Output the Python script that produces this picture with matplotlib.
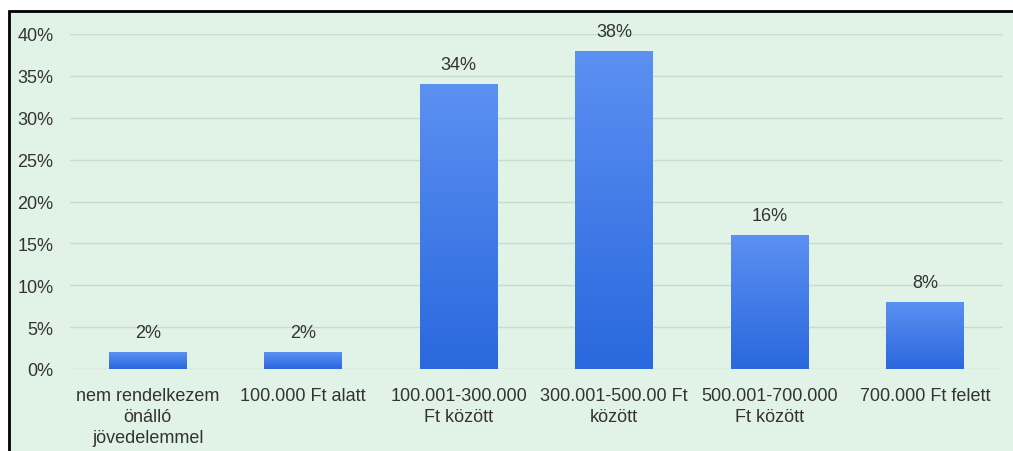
import numpy as np
import matplotlib
matplotlib.use("Agg")
import matplotlib.pyplot as plt
from matplotlib.patches import Rectangle
from matplotlib.colors import LinearSegmentedColormap

plt.rcParams['font.family'] = ['Liberation Sans', 'DejaVu Sans']

categories = [
    "nem rendelkezem\nönálló\njövedelemmel",
    "100.000 Ft alatt",
    "100.001-300.000\nFt között",
    "300.001-500.00 Ft\nközött",
    "500.001-700.000\nFt között",
    "700.000 Ft felett",
]
shares = [2, 2, 34, 38, 16, 8]
yticks = [0, 5, 10, 15, 20, 25, 30, 35, 40]

bg = "#e1f2e7"
text_col = "#333333"

fig = plt.figure(figsize=(10.13, 4.52), dpi=100)
fig.patch.set_facecolor("white")

# framed green panel behind the axes
W, H = 1013, 452
panel = Rectangle((9 / W, -0.05), 1.1, 1 - 12 / H + 0.05, transform=fig.transFigure,
                  facecolor=bg, edgecolor="black", linewidth=2, zorder=-5)
fig.add_artist(panel)

ax = fig.add_axes([70 / W, 1 - 370 / H, 933 / W, 335 / H])
ax.set_facecolor("none")

x = np.arange(len(categories))
bars = ax.bar(x, shares, width=0.5, color="none", edgecolor="none", zorder=3)

# vertical gradient fill for each bar
cmap = LinearSegmentedColormap.from_list("blues", ["#2a68de", "#5c90f2"])
grad = np.linspace(0, 1, 256).reshape(-1, 1)
for b in bars:
    x0, y0 = b.get_x(), b.get_y()
    w, h = b.get_width(), b.get_height()
    im = ax.imshow(grad, cmap=cmap, origin="lower", aspect="auto",
                   extent=(x0, x0 + w, y0, y0 + h), zorder=3)
    im.set_clip_path(b)

ax.bar_label(bars, labels=[f"{v}%" for v in shares], padding=8,
             fontsize=13, color=text_col)

ax.set_xlim(-0.5, len(categories) - 0.5)
ax.set_ylim(0, 40)
ax.set_yticks(yticks)
ax.set_yticklabels([f"{v}%" for v in yticks])
ax.set_xticks(x)
ax.set_xticklabels(categories, linespacing=1.3)
ax.tick_params(axis="both", length=0, labelsize=13, labelcolor=text_col)
ax.tick_params(axis="y", pad=12)
ax.tick_params(axis="x", pad=13)
ax.grid(axis="y", color="#c7dccf", linewidth=1, zorder=0)
ax.set_axisbelow(True)
for s in ax.spines.values():
    s.set_visible(False)

fig.savefig("out.png", dpi=100, facecolor=fig.get_facecolor())
